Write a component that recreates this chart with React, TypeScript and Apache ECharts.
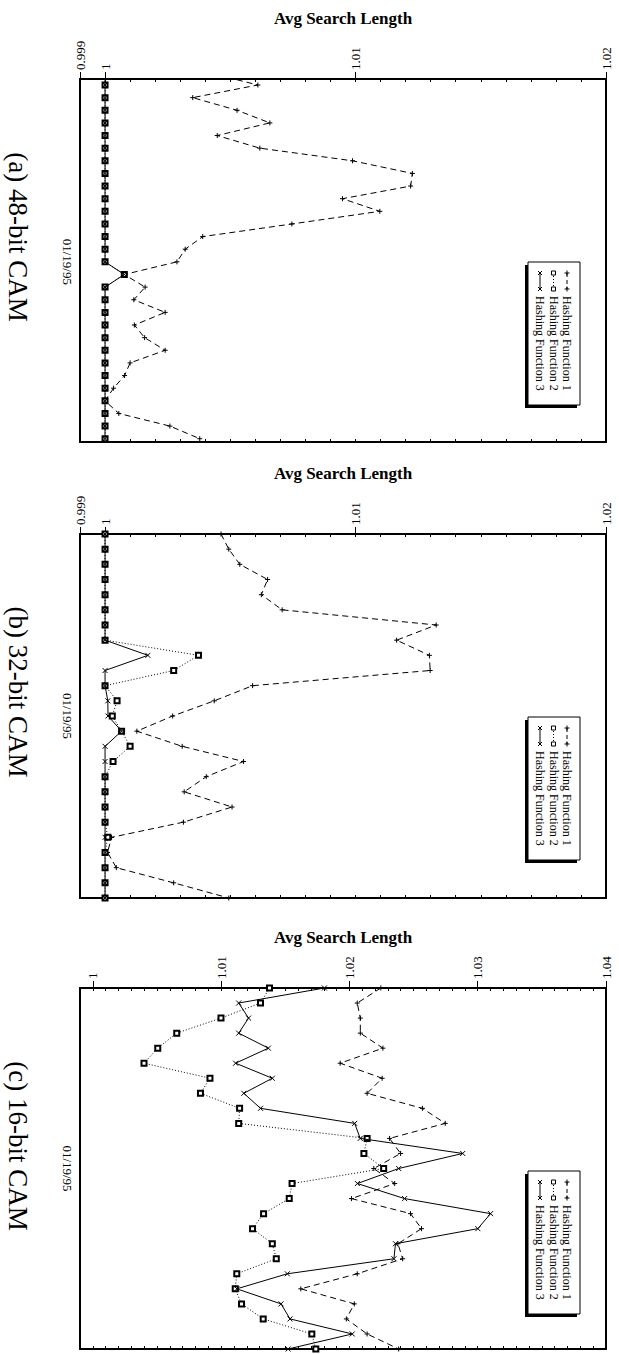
import React, { useEffect, useRef } from "react";
import * as echarts from "echarts";

const AXIS_TITLE = "Avg Search Length";
const DATE_LABEL = "01/19/95";
const SERIES_NAMES = ["Hashing Function 1", "Hashing Function 2", "Hashing Function 3"];
const CAPTIONS = ["(a) 48-bit CAM", "(b) 32-bit CAM", "(c) 16-bit CAM"];

const TICKS_AB = ["0.999", "1", "1.01", "1.02"];
const TICKS_C = ["1", "1.01", "1.02", "1.03", "1.04"];

// (a) 48-bit CAM: samples at time index -1 .. 28
const A_START = -1;
const A_DATE_INDEX = 14;
const A_H1 = [1.0041, 1.00610, 1.00350, 1.00527, 1.00658, 1.00448, 1.00618, 1.00988, 1.01227, 1.01220, 1.00948, 1.01097, 1.00746, 1.00390, 1.00320, 1.00287, 1.00077, 1.00160, 1.00115, 1.00240, 1.00117, 1.00158, 1.00240, 1.00100, 1.00078, 1.00034, 1.00000, 1.00055, 1.00259, 1.00378];
const A_H2 = [1, 1, 1, 1, 1, 1, 1, 1, 1, 1, 1, 1, 1, 1, 1, 1, 1.00077, 1, 1, 1, 1, 1, 1, 1, 1, 1, 1, 1, 1, 1];
const A_H3 = [1, 1, 1, 1, 1, 1, 1, 1, 1, 1, 1, 1, 1, 1, 1, 1, 1.00077, 1, 1, 1, 1, 1, 1, 1, 1, 1, 1, 1, 1, 1];

// (b) 32-bit CAM: samples at time index 0 .. 24
const B_START = 0;
const B_DATE_INDEX = 12;
const B_H1 = [1.00463, 1.00494, 1.00538, 1.00649, 1.00624, 1.00707, 1.01322, 1.01164, 1.01295, 1.01298, 1.00589, 1.00436, 1.0027, 1.00127, 1.00308, 1.00553, 1.00404, 1.00316, 1.00507, 1.00313, 1.00026, 1.0001, 1.00045, 1.00274, 1.00494];
const B_H2 = [1, 1, 1, 1, 1, 1, 1, 1, 1.00373, 1.00274, 1, 1.00048, 1.00029, 1.00066, 1.001, 1.00032, 1, 1, 1, 1, 1.00011, 1, 1, 1, 1];
const B_H3 = [1, 1, 1, 1, 1, 1, 1, 1, 1.00171, 1, 1, 1.00011, 1.00012, 1.00066, 1, 1, 1, 1, 1, 1, 1, 1, 1, 1, 1];

// (c) 16-bit CAM: samples at time index 0 .. 24
const C_START = 0;
const C_DATE_INDEX = 12;
const C_H1 = [1.02245, 1.02061, 1.02085, 1.02085, 1.02261, 1.01928, 1.02255, 1.02138, 1.02569, 1.02747, 1.02313, 1.02399, 1.0219, 1.02353, 1.02016, 1.02476, 1.02562, 1.02378, 1.02415, 1.02061, 1.01621, 1.02038, 1.01976, 1.02138, 1.02384];
const C_H2 = [1.01377, 1.01307, 1.00999, 1.00654, 1.00506, 1.00399, 1.00913, 1.00839, 1.01144, 1.01137, 1.02138, 1.02113, 1.02267, 1.01553, 1.01531, 1.01331, 1.01245, 1.01399, 1.0143, 1.01122, 1.0111, 1.01159, 1.01328, 1.01707, 1.01738];
const C_H3 = [1.01805, 1.01137, 1.01214, 1.01137, 1.01368, 1.01113, 1.01399, 1.01177, 1.01307, 1.02041, 1.02084, 1.02883, 1.02384, 1.02062, 1.0243, 1.031, 1.03001, 1.02359, 1.02347, 1.01516, 1.01122, 1.01467, 1.01537, 1.02022, 1.01522];

const PANELS = [
  { top: 79, height: 363, xMin: 0.999, xMax: 1.02, ticks: TICKS_AB, yMin: -0.475, yMax: 28.26, start: A_START, date: A_DATE_INDEX, data: [A_H1, A_H2, A_H3], titleGap: 52 },
  { top: 534, height: 364, xMin: 0.999, xMax: 1.02, ticks: TICKS_AB, yMin: 0, yMax: 24, start: B_START, date: B_DATE_INDEX, data: [B_H1, B_H2, B_H3], titleGap: 52 },
  { top: 988, height: 361, xMin: 0.999, xMax: 1.04, ticks: TICKS_C, yMin: 0, yMax: 24, start: C_START, date: C_DATE_INDEX, data: [C_H1, C_H2, C_H3], titleGap: 42 },
];

const BLACK = "#000";
const SERIF = "'Liberation Serif', 'DejaVu Serif', serif";
const SYMBOLS = ["path://M5 0L5 10M0 5L10 5", "emptyRect", "path://M0 0L10 10M10 0L0 10"];
const DASHES: any[] = [[6, 4], [1, 2], "solid"];

function buildOption() {
  const grid: any[] = [];
  const xAxis: any[] = [];
  const yAxis: any[] = [];
  const series: any[] = [];
  const graphic: any[] = [];

  PANELS.forEach((p, gi) => {
    grid.push({ left: 80, top: p.top, width: 526, height: p.height, containLabel: false, outerBoundsMode: "none" });
    const base = { type: "value", gridIndex: gi, min: p.xMin, max: p.xMax, interval: 0.001, splitLine: { show: false } };
    const tickVals = p.ticks.map(Number);
    xAxis.push({
      ...base,
      position: "top",
      axisLine: { show: true, onZero: false, lineStyle: { color: BLACK, width: 2 } },
      axisTick: { show: true, inside: true, length: 3, lineStyle: { color: BLACK, width: 1 } },
      axisLabel: { show: false },
      name: AXIS_TITLE,
      nameLocation: "middle",
      nameGap: p.titleGap,
      nameTextStyle: { fontFamily: SERIF, fontWeight: "bold", fontSize: 17, color: BLACK },
    });
    xAxis.push({
      ...base,
      position: "top",
      axisLine: { show: false, onZero: false },
      axisTick: { show: true, inside: false, length: 7, customValues: tickVals, lineStyle: { color: BLACK, width: 1 } },
      axisLabel: {
        show: true,
        customValues: tickVals,
        formatter: (v: number) => p.ticks.find((t) => Math.abs(Number(t) - v) < 1e-9) ?? String(v),
        rotate: -90,
        margin: 9,
        fontFamily: SERIF,
        fontSize: 13,
        color: BLACK,
      },
    });
    xAxis.push({
      ...base,
      position: "bottom",
      axisLine: { show: true, onZero: false, lineStyle: { color: BLACK, width: 2 } },
      axisTick: { show: true, inside: true, length: 3, lineStyle: { color: BLACK, width: 1 } },
      axisLabel: { show: false },
    });
    yAxis.push({
      type: "value",
      gridIndex: gi,
      position: "left",
      inverse: true,
      min: p.yMin,
      max: p.yMax,
      splitLine: { show: false },
      axisLine: { show: true, onZero: false, lineStyle: { color: BLACK, width: 2 } },
      axisTick: { show: false },
      axisLabel: {
        show: true,
        customValues: [p.date],
        formatter: () => DATE_LABEL,
        rotate: -90,
        margin: 6,
        fontFamily: SERIF,
        fontSize: 13,
        color: BLACK,
      },
    });
    yAxis.push({
      type: "value",
      gridIndex: gi,
      position: "right",
      inverse: true,
      min: p.yMin,
      max: p.yMax,
      splitLine: { show: false },
      axisLine: { show: true, onZero: false, lineStyle: { color: BLACK, width: 2 } },
      axisTick: { show: false },
      axisLabel: { show: false },
    });

    p.data.forEach((vals, si) => {
      series.push({
        type: "line",
        name: SERIES_NAMES[si],
        xAxisIndex: gi * 3,
        yAxisIndex: gi * 2,
        data: vals.map((v, i) => [v, p.start + i]),
        symbol: SYMBOLS[si],
        symbolSize: si === 1 ? 5 : 5,
        showSymbol: true,
        clip: true,
        silent: true,
        lineStyle: { color: BLACK, width: 1, type: DASHES[si] },
        itemStyle: { color: BLACK, borderColor: BLACK, borderWidth: si === 1 ? 0.8 : 1 },
        z: 2 + si,
      });
    });

    const T = p.top;
    graphic.push({
      type: "text",
      x: 18,
      y: T + 158,
      rotation: -Math.PI / 2,
      style: { text: CAPTIONS[gi], fontSize: 27, fontFamily: SERIF, fill: BLACK, align: "center", verticalAlign: "middle", textAlign: "center", textVerticalAlign: "middle" },
    });
    graphic.push({ type: "rect", shape: { x: 525, y: T + 186, width: 52, height: 143 }, style: { fill: BLACK } });
    graphic.push({ type: "rect", shape: { x: 528, y: T + 183, width: 52, height: 143 }, style: { fill: "#fff", stroke: BLACK, lineWidth: 1 } });
    SERIES_NAMES.forEach((name, si) => {
      const x = 567 - 13.5 * si;
      const y0 = T + 194;
      const y1 = T + 210;
      graphic.push({
        type: "line",
        shape: { x1: x, y1: y0, x2: x, y2: y1 },
        style: { stroke: BLACK, lineWidth: 1, lineDash: si === 0 ? [4, 3] : si === 1 ? [1, 2] : null },
      });
      [y0, y1].forEach((yy) => {
        if (si === 0) {
          graphic.push({ type: "line", shape: { x1: x - 2.5, y1: yy, x2: x + 2.5, y2: yy }, style: { stroke: BLACK, lineWidth: 1 } });
          graphic.push({ type: "line", shape: { x1: x, y1: yy - 2.5, x2: x, y2: yy + 2.5 }, style: { stroke: BLACK, lineWidth: 1 } });
        } else if (si === 1) {
          graphic.push({ type: "rect", shape: { x: x - 2, y: yy - 2, width: 4, height: 4 }, style: { fill: "#fff", stroke: BLACK, lineWidth: 1 } });
        } else {
          graphic.push({ type: "line", shape: { x1: x - 2, y1: yy - 2, x2: x + 2, y2: yy + 2 }, style: { stroke: BLACK, lineWidth: 1 } });
          graphic.push({ type: "line", shape: { x1: x + 2, y1: yy - 2, x2: x - 2, y2: yy + 2 }, style: { stroke: BLACK, lineWidth: 1 } });
        }
      });
      graphic.push({
        type: "text",
        x,
        y: T + 217,
        rotation: -Math.PI / 2,
        style: { text: name, fontSize: 12, fontFamily: SERIF, fill: BLACK, align: "left", verticalAlign: "middle", textAlign: "left", textVerticalAlign: "middle" },
      });
    });
  });

  return {
    animation: false,
    backgroundColor: "#fff",
    textStyle: { fontFamily: SERIF },
    grid,
    xAxis,
    yAxis,
    series,
    graphic,
  };
}

export default function App() {
  const ref = useRef<HTMLDivElement>(null);
  useEffect(() => {
    if (!ref.current) return;
    const chart = echarts.init(ref.current, null, { renderer: "svg" });
    chart.setOption(buildOption() as any);
    return () => chart.dispose();
  }, []);
  return <div ref={ref} style={{ position: "absolute", left: 0, top: 0, width: 619, height: 1354 }} />;
}
